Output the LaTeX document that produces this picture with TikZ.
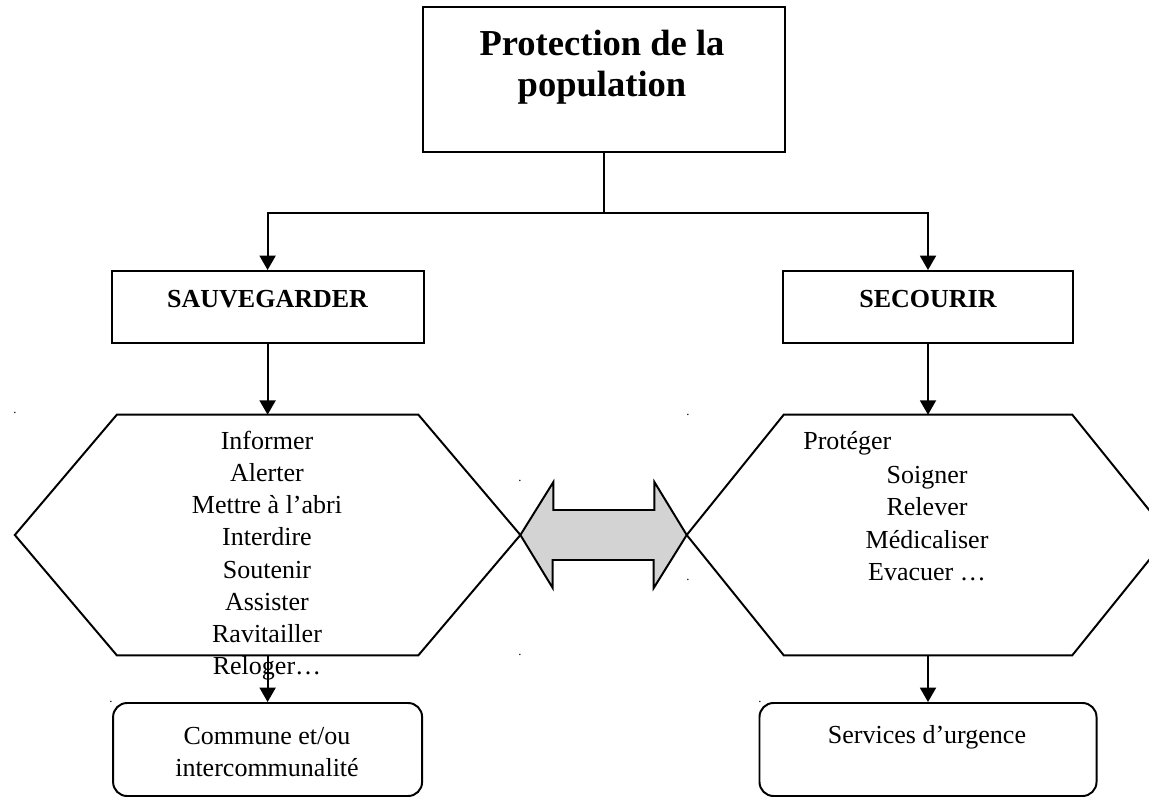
\documentclass[tikz,border=0pt]{standalone}
\usepackage{fontspec}
\setmainfont{Liberation Serif}
\usepackage{tikz}
\usetikzlibrary{positioning}
\usetikzlibrary{arrows.meta}
\definecolor{arrowgray}{RGB}{211,211,211}
\tikzstyle{arrow} = [line width=1.4pt,-{Triangle[length=0.36cm,width=0.4cm]}]
\tikzstyle{box} = [draw,line width=1.4pt,minimum height=1.8cm,text height=0.3cm,text depth=0.3cm,font=\fontsize{18.5}{22.9}\selectfont\bfseries]
\tikzstyle{hexa} = [minimum height=6cm,inner sep=0pt]
\tikzstyle{bank} = [draw,line width=1.4pt,rounded corners=0.35cm,minimum height=2.325cm]
\tikzstyle{verbs} = [align=center,font=\fontsize{18.5}{22.9}\selectfont]

\begin{document}
\begin{tikzpicture}
\path[use as bounding box,clip] (0,0) rectangle (28.725,-19.925);

%Nodes
\node (top) [draw,line width=1.4pt,minimum width=9.05cm,minimum height=3.625cm] at (15.1,-1.9875) {};
\node (title) [align=center,font=\fontsize{26}{29.2}\selectfont\bfseries] at (15.05,-1.675) {Protection de la\\population};

\node (sauv) [box,minimum width=7.8cm] at (6.69,-7.675) {SAUVEGARDER};
\node (secour) [box,minimum width=7.25cm] at (23.2,-7.675) {SECOURIR};

\node (hexL) [hexa,minimum width=12.625cm] at (6.69,-13.375) {};
\node (hexR) [hexa,minimum width=12.05cm] at (23.2,-13.375) {};

\node (comm) [bank,minimum width=7.725cm] at (6.69,-18.7375) {};
\node (urg) [bank,minimum width=8.425cm] at (23.2,-18.7375) {};

%Texts
\node (actL) [verbs] at (6.675,-13.89) {Informer\\Alerter\\Mettre à l’abri\\Interdire\\Soutenir\\Assister\\Ravitailler\\Reloger…};
\node (prot) [verbs,anchor=west,inner sep=0pt] at (20.075,-11.075) {Protéger};
\node (actR) [verbs] at (23.175,-13.09) {Soigner\\Relever\\Médicaliser\\Evacuer …};
\node (commtxt) [verbs] at (6.675,-18.81) {Commune et/ou\\intercommunalité};
\node (urgtxt) [verbs] at (23.175,-18.425) {Services d’urgence};

%Dots
\foreach \p [count=\i] in {(0.375,-10.325),(13.0,-12.025),(17.2,-10.375),(17.2,-14.5),(13.0,-16.375),(2.775,-17.55),(19.0,-17.55)}
  \node (dot\i) [font=\small,inner sep=0pt] at \p {.};

%Double arrow
\draw[line width=1.4pt,fill=arrowgray] (hexL.east) -- ++(0.825,1.325) -- ++(0,-0.7) -- ++(2.525,0) -- ++(0,0.7) -- (hexR.west) -- ++(-0.825,-1.325) -- ++(0,0.7) -- ++(-2.525,0) -- ++(0,-0.7) -- cycle;

%Hexagons
\draw[line width=1.4pt] (hexL.west) -- ([xshift=2.55cm]hexL.north west) -- ([xshift=-2.55cm]hexL.north east) -- (hexL.east) -- ([xshift=-2.55cm]hexL.south east) -- ([xshift=2.55cm]hexL.south west) -- cycle;
\draw[line width=1.4pt] (hexR.west) -- ([xshift=2.425cm]hexR.north west) -- ([xshift=-2.425cm]hexR.north east) -- (hexR.east) -- ([xshift=-2.425cm]hexR.south east) -- ([xshift=2.425cm]hexR.south west) -- cycle;

%Lines
\draw[line width=1.4pt] (top.south) -- ++(0,-1.5) coordinate (split);
\draw[arrow] (split) -| (sauv.north);
\draw[arrow] (split) -| (secour.north);
\draw[arrow] (sauv.south) -- (hexL.north);
\draw[arrow] (secour.south) -- (hexR.north);
\draw[arrow] (hexL.south) -- (comm.north);
\draw[arrow] (hexR.south) -- (urg.north);
\end{tikzpicture}
\end{document}
